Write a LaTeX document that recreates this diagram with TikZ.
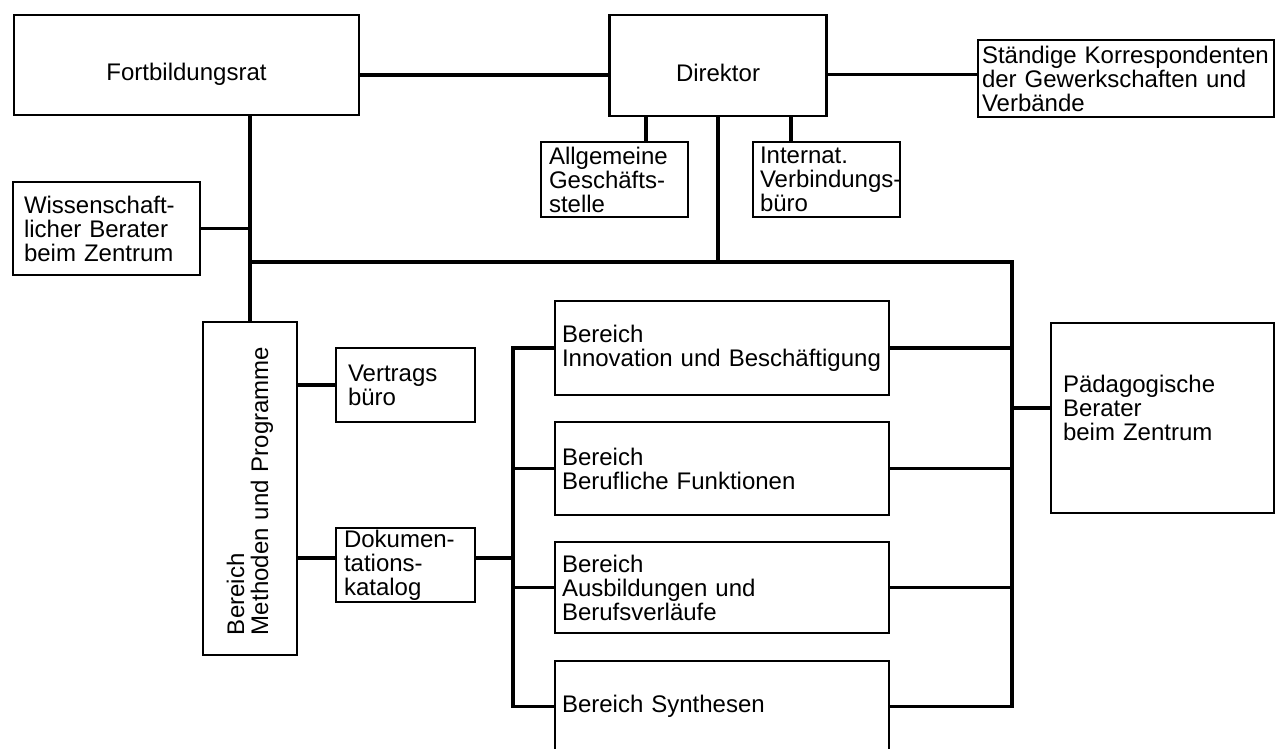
\documentclass[tikz,border=0pt]{standalone}
\usepackage{fontspec}
\setmainfont{Liberation Sans}
\begin{document}
\begin{tikzpicture}[x=1pt,y=-1pt,
  box/.style={draw, line width=2.6pt, inner sep=0pt, font=\fontsize{24}{24}\selectfont, align=left},
  conn/.style={line width=3.4pt}]
\useasboundingbox (0,0) rectangle (1277,749);
% boxes
\node[box, align=center, minimum width=345pt, minimum height=100pt, text height=37pt, text depth=5pt] (fort) at (186.5,65) {Fortbildungsrat};
\node[box, align=center, minimum width=217pt, minimum height=101pt, text height=37pt, text depth=5pt] (dir) at (718,65.5) {Direktor};
\node[box, minimum width=296pt, minimum height=77pt, inner xsep=4pt, text width=288pt] (staend) at (1126,78.5) {\mbox{Ständige Korrespondenten}\\der Gewerkschaften und\\Verbände};
\node[box, minimum width=147pt, minimum height=75pt, inner xsep=8pt, text width=131pt] (allg) at (614.5,179.5) {Allgemeine\\Geschäfts-\\stelle};
\node[box, minimum width=147pt, minimum height=75pt, inner xsep=7pt, text width=133pt] (intl) at (826.5,179.5) {Internat.\\\mbox{Verbindungs-}\\büro};
\node[box, minimum width=187pt, minimum height=93pt, inner xsep=11pt, text width=165pt] (wiss) at (106.5,228.5) {Wissenschaft-\\licher Berater\\beim Zentrum};
\node[box, rotate=90, minimum width=333pt, minimum height=94pt, inner xsep=20pt, text width=293pt] (meth) at (250,488.5) {Bereich\\\mbox{Methoden und Programme}};
\node[box, minimum width=139pt, minimum height=74pt, inner xsep=12pt, text width=115pt] (vert) at (405.5,385) {Vertrags\\büro};
\node[box, minimum width=139pt, minimum height=74pt, inner xsep=8pt, text width=123pt] (dok) at (405.5,565) {\mbox{Dokumen-}\\tations-\\katalog};
\node[box, minimum width=334pt, minimum height=94pt, inner xsep=7pt, text width=320pt] (innov) at (722,348) {Bereich\\\mbox{Innovation und Beschäftigung}};
\node[box, minimum width=334pt, minimum height=93pt, inner xsep=7pt, text width=320pt] (beruf) at (722,468.5) {Bereich\\Berufliche Funktionen};
\node[box, minimum width=334pt, minimum height=91pt, inner xsep=7pt, text width=320pt] (ausb) at (722,587.5) {Bereich\\Ausbildungen und\\Berufsverläufe};
\node[box, minimum width=334pt, minimum height=91pt, inner xsep=7pt, text width=320pt] (synth) at (722,706.5) {Bereich Synthesen};
\node[box, minimum width=223pt, minimum height=190pt, inner xsep=12pt, text width=199pt, text depth=69pt] (paed) at (1162.5,418) {Pädagogische\\Berater\\beim Zentrum};
% helper coordinates
\coordinate (jL) at (250,262);
\coordinate (jR) at (1012,262);
\coordinate (kT) at (513,348);
\coordinate (dokY) at (0,558);
% connectors
\draw[conn] ([yshift=-10pt]fort.east) -- ([yshift=-10pt]fort.east -| dir.west);
\draw[conn] ([yshift=-9pt]dir.east) -- ([yshift=-9pt]dir.east -| staend.west);
\draw[conn] ([xshift=31.5pt]allg.north) -- ([xshift=31.5pt]allg.north |- dir.south);
\draw[conn] ([xshift=-35.5pt]intl.north) -- ([xshift=-35.5pt]intl.north |- dir.south);
\draw[conn] (meth.east) -- (meth.east |- fort.south);
\draw[conn] (wiss.east) -- (wiss.east -| jL);
\draw[conn] (jL) -- (jR) -- (jR |- synth.east) -- (synth.east);
\draw[conn] (dir.south) -- (dir.south |- jL);
\draw[conn] (innov.east) -- (innov.east -| jR);
\draw[conn] (beruf.east) -- (beruf.east -| jR);
\draw[conn] (ausb.east) -- (ausb.east -| jR);
\draw[conn] ([yshift=10pt]paed.west) -- ([yshift=10pt]paed.west -| jR);
\draw[conn] (innov.west) -- (innov.west -| kT) -- (synth.west -| kT) -- (synth.west);
\draw[conn] (beruf.west) -- (beruf.west -| kT);
\draw[conn] (ausb.west) -- (ausb.west -| kT);
\draw[conn] (vert.west) -- (vert.west -| meth.south);
\draw[conn] (dokY -| meth.south) -- (dokY -| dok.west);
\draw[conn] (dokY -| dok.east) -- (dokY -| kT);
\end{tikzpicture}
\end{document}
